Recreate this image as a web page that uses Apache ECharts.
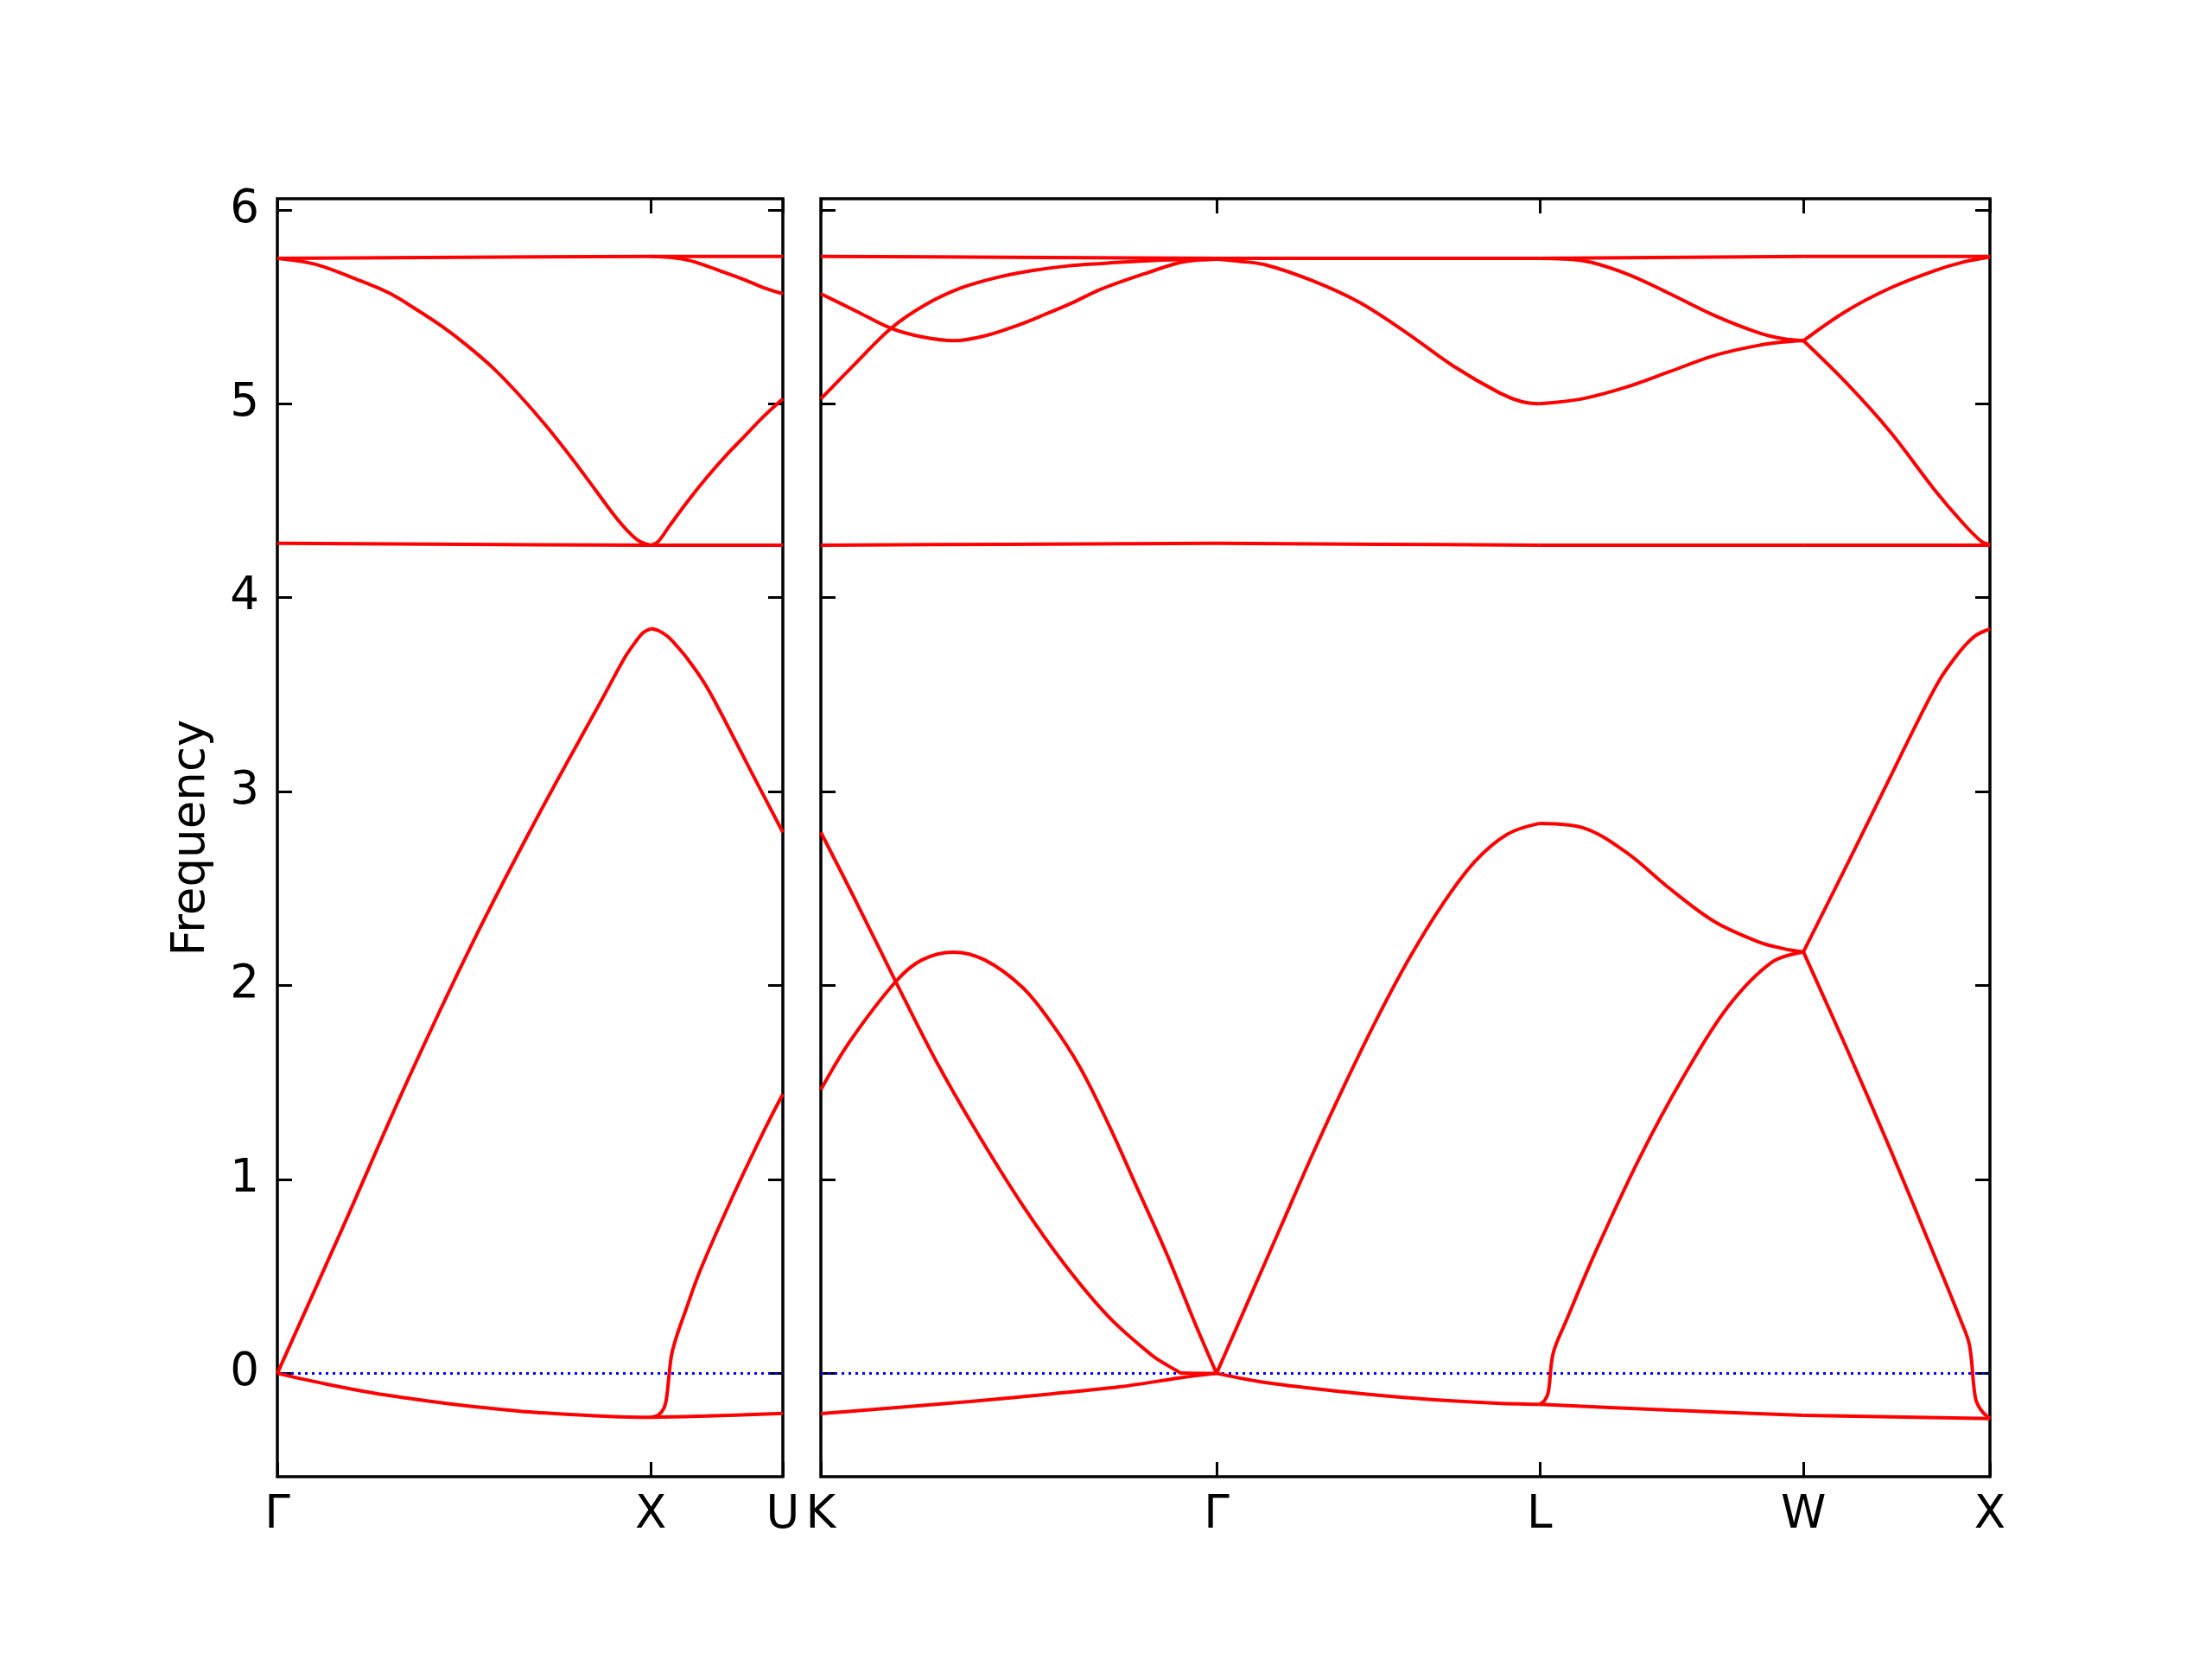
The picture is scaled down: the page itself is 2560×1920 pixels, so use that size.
<!DOCTYPE html>
<html><head><meta charset="utf-8">
<script src="https://cdn.jsdelivr.net/npm/echarts@6/dist/echarts.min.js"></script>
<style>html,body{margin:0;padding:0;background:#fff}#c{width:2560px;height:1920px}</style>
</head><body><div id="c"></div>
<script>
// ---- tick positions (reciprocal-space path length) and labels ----
const leftTicks = [0, 1.0, 1.3536];
const leftLabels = ['Γ', 'X', 'U'];
const rightTicks = [0, 1.0607, 1.9267, 2.6338, 3.1338];
const rightLabels = ['K', 'Γ', 'L', 'W', 'X'];
const yTicks = [0, 1, 2, 3, 4, 5, 6];
const yMin = -0.533, yMax = 6.057;

// ---- left panel: Γ - X ----
const gxTop = [[0,5.75],[0.5,5.755],[1.0,5.76]];
const gxOptDown = [[0,5.75],[0.1,5.72],[0.214,5.64],[0.3,5.57],[0.369,5.49],[0.44,5.40],[0.508,5.30],[0.58,5.18],[0.65,5.04],[0.72,4.885],[0.79,4.715],[0.85,4.56],[0.9,4.43],[0.94,4.34],[0.97,4.29],[1.0,4.27]];
const gxFlat = [[0,4.28],[0.5,4.275],[1.0,4.27]];
const gxLA = [[0,0],[0.173,0.743],[0.348,1.507],[0.522,2.217],[0.697,2.871],[0.872,3.485],[0.93,3.69],[0.959,3.772],[0.98,3.82],[1.0,3.84]];
const gxTA = [[0,0],[0.13,-0.055],[0.2617,-0.103],[0.4,-0.142],[0.522,-0.171],[0.65,-0.195],[0.785,-0.212],[0.9,-0.223],[1.0,-0.227]];
// ---- left panel: X - U ----
const xuTop = [[1.0,5.76],[1.3536,5.76]];
const xuOptDown = [[1.0,5.76],[1.05,5.755],[1.1,5.74],[1.15,5.71],[1.2,5.675],[1.25,5.64],[1.3,5.60],[1.3536,5.567]];
const xuOptUp = [[1.0,4.27],[1.02,4.29],[1.05,4.37],[1.1,4.50],[1.15,4.62],[1.2,4.73],[1.25,4.83],[1.3,4.93],[1.3536,5.025]];
const xuFlat = [[1.0,4.27],[1.3536,4.27]];
const xuLA = [[1.0,3.84],[1.02,3.83],[1.045,3.80],[1.07,3.75],[1.1,3.68],[1.14,3.57],[1.177,3.445],[1.265,3.117],[1.3536,2.79]];
const xuTA = [[1.0,-0.227],[1.15,-0.22],[1.3536,-0.207]];
const xuTA2 = [[1.0,-0.227],[1.02,-0.215],[1.035,-0.18],[1.042,-0.13],[1.055,0.088],[1.068,0.184],[1.09,0.306],[1.131,0.524],[1.218,0.906],[1.306,1.262],[1.3536,1.44]];

// ---- right panel: K - Γ ----
const kgTop = [[0,5.76],[0.5,5.755],[1.0607,5.75]];
const kgOptA = [[0,5.567],[0.094,5.478],[0.188,5.389],[0.27,5.345],[0.358,5.325],[0.44,5.35],[0.527,5.404],[0.6,5.46],[0.677,5.523],[0.75,5.59],[0.878,5.677],[0.97,5.731],[1.0607,5.745]];
const kgOptB = [[0,5.025],[0.094,5.21],[0.188,5.389],[0.28,5.51],[0.376,5.597],[0.47,5.65],[0.565,5.686],[0.66,5.71],[0.753,5.723],[0.9,5.74],[1.0607,5.745]];
const kgFlat = [[0,4.27],[0.5,4.275],[1.0607,4.28]];
const kgAc1 = [[0,2.79],[0.0926,2.44],[0.2007,2.02],[0.3087,1.611],[0.4168,1.248],[0.54,0.869],[0.656,0.555],[0.7718,0.291],[0.8875,0.093],[0.93,0.04],[0.957,0.01],[0.965,0.002],[1.0607,0]];
const kgAc2 = [[0,1.4625],[0.0772,1.71],[0.2007,2.02],[0.27,2.131],[0.355,2.172],[0.44,2.131],[0.54,1.991],[0.617,1.809],[0.6946,1.578],[0.7718,1.281],[0.849,0.951],[0.926,0.621],[1.003,0.258],[1.0607,0]];
const kgAc3 = [[0,-0.208],[0.1466,-0.185],[0.4,-0.145],[0.617,-0.106],[0.8,-0.07],[0.9645,-0.023],[1.0607,0]];
// ---- right panel: Γ - L ----
const glTop = [[1.0607,5.75],[1.5,5.75],[1.9267,5.75]];
const glOpt = [[1.0607,5.745],[1.12,5.735],[1.192,5.716],[1.318,5.634],[1.443,5.523],[1.569,5.367],[1.694,5.196],[1.82,5.055],[1.88,5.01],[1.9267,5.0]];
const glFlat = [[1.0607,4.28],[1.5,4.275],[1.9267,4.27]];
const glLA = [[1.0607,0],[1.1473,0.38],[1.2339,0.76],[1.3205,1.14],[1.4071,1.50],[1.4937,1.84],[1.5803,2.15],[1.6669,2.42],[1.7535,2.64],[1.8401,2.78],[1.9267,2.836]];
const glTA = [[1.0607,0],[1.2,-0.05],[1.4,-0.095],[1.6,-0.13],[1.8,-0.153],[1.9267,-0.16]];
// ---- right panel: L - W ----
const lwTop = [[1.9267,5.75],[2.6338,5.76]];
const lwOptDown = [[1.9267,5.75],[2.04,5.738],[2.158,5.671],[2.276,5.567],[2.394,5.456],[2.512,5.367],[2.58,5.335],[2.6338,5.325]];
const lwOptUp = [[1.9267,5.0],[2.04,5.025],[2.158,5.085],[2.276,5.166],[2.394,5.248],[2.512,5.30],[2.58,5.318],[2.6338,5.325]];
const lwFlat = [[1.9267,4.27],[2.6338,4.27]];
const lwAc1 = [[1.9267,2.836],[2.04,2.815],[2.158,2.688],[2.276,2.499],[2.394,2.331],[2.512,2.226],[2.58,2.19],[2.6338,2.173]];
const lwAc2 = [[1.9267,-0.16],[1.94,-0.14],[1.95,-0.097],[1.963,0.103],[1.998,0.271],[2.077,0.628],[2.195,1.112],[2.313,1.532],[2.431,1.889],[2.549,2.12],[2.6338,2.173]];
const lwAc3 = [[1.9267,-0.16],[2.28,-0.19],[2.6338,-0.217]];
// ---- right panel: W - X ----
const wxTop = [[2.6338,5.76],[3.1338,5.76]];
const wxOptUp = [[2.6338,5.325],[2.749,5.478],[2.867,5.597],[2.985,5.686],[3.064,5.731],[3.1338,5.756]];
const wxOptDown = [[2.6338,5.325],[2.749,5.107],[2.867,4.854],[2.985,4.557],[3.064,4.379],[3.111,4.29],[3.1338,4.275]];
const wxFlat = [[2.6338,4.27],[3.1338,4.27]];
const wxAc1 = [[2.6338,2.173],[2.75,2.62],[2.85,3.01],[2.95,3.40],[3.0,3.58],[3.04,3.69],[3.07,3.76],[3.1,3.81],[3.1338,3.838]];
const wxAc2 = [[2.6338,2.173],[2.749,1.679],[2.867,1.154],[2.985,0.607],[3.056,0.271],[3.079,0.145],[3.095,-0.128],[3.111,-0.192],[3.1338,-0.233]];
const wxAc3 = [[2.6338,-0.217],[3.1338,-0.233]];

const leftBranches = [gxTop,gxOptDown,gxFlat,gxLA,gxTA,xuTop,xuOptDown,xuOptUp,xuFlat,xuLA,xuTA,xuTA2];
const rightBranches = [kgTop,kgOptA,kgOptB,kgFlat,kgAc1,kgAc2,kgAc3,glTop,glOpt,glFlat,glLA,glTA,
  lwTop,lwOptDown,lwOptUp,lwFlat,lwAc1,lwAc2,lwAc3,wxTop,wxOptUp,wxOptDown,wxFlat,wxAc1,wxAc2,wxAc3];

const FONT = 'DejaVu Sans';
const FS = 53;
const tickStyle = {show:true, inside:true, length:17, lineStyle:{color:'#000', width:3}};

function xAxisFor(grid, ticks, labels, pos, showLabels){
  return {
    type:'value', gridIndex:grid, position:pos, min:0, max:ticks[ticks.length-1],
    axisLine:{show:false, onZero:false}, splitLine:{show:false},
    axisTick:Object.assign({customValues:ticks}, tickStyle),
    axisLabel:{show:showLabels, customValues:ticks, margin:19, fontSize:FS, fontFamily:FONT, color:'#000',
      formatter:function(v){ const i = ticks.findIndex(t=>Math.abs(t-v)<1e-6); return i>=0?labels[i]:''; }}
  };
}
function yAxisFor(grid, pos, showLabels, name){
  const a = {
    type:'value', gridIndex:grid, position:pos, min:yMin, max:yMax,
    axisLine:{show:false, onZero:false}, splitLine:{show:false},
    axisTick:Object.assign({customValues:yTicks}, tickStyle),
    axisLabel:{show:showLabels, customValues:yTicks, margin:21, fontSize:FS, fontFamily:FONT, color:'#000'}
  };
  if (name){
    a.name = name; a.nameLocation = 'middle'; a.nameGap = 72;
    a.nameTextStyle = {fontSize:FS, fontFamily:FONT, color:'#000'};
  }
  return a;
}

const series = [];
function zeroLine(xi, yi, xmax){
  series.push({type:'line', xAxisIndex:xi, yAxisIndex:yi, data:[[0,0],[xmax,0]], showSymbol:false, silent:true, z:2,
    lineStyle:{color:'#0000ff', width:3, type:[3,5]}});
}
zeroLine(0,0,leftTicks[2]);
zeroLine(2,2,rightTicks[4]);
const redLine = {color:'#ff0000', width:4};
leftBranches.forEach(d=>series.push({type:'line', xAxisIndex:0, yAxisIndex:0, data:d, showSymbol:false, smooth:0.35, silent:true, z:3, lineStyle:redLine}));
rightBranches.forEach(d=>series.push({type:'line', xAxisIndex:2, yAxisIndex:2, data:d, showSymbol:false, smooth:0.35, silent:true, z:3, lineStyle:redLine}));

const chart = echarts.init(document.getElementById('c'), null, {renderer:'canvas', width:2560, height:1920});
chart.setOption({
  backgroundColor:'#ffffff',
  animation:false,
  grid:[
    {left:321, top:230, width:585, height:1479, show:true, borderColor:'#000', borderWidth:3.5, backgroundColor:'#fff'},
    {left:950, top:230, width:1353, height:1479, show:true, borderColor:'#000', borderWidth:3.5, backgroundColor:'#fff'}
  ],
  xAxis:[
    xAxisFor(0, leftTicks, leftLabels, 'bottom', true),
    xAxisFor(0, leftTicks, leftLabels, 'top', false),
    xAxisFor(1, rightTicks, rightLabels, 'bottom', true),
    xAxisFor(1, rightTicks, rightLabels, 'top', false)
  ],
  yAxis:[
    yAxisFor(0, 'left', true, 'Frequency'),
    yAxisFor(0, 'right', false),
    yAxisFor(1, 'left', false),
    yAxisFor(1, 'right', false)
  ],
  series:series
});
</script></body></html>
